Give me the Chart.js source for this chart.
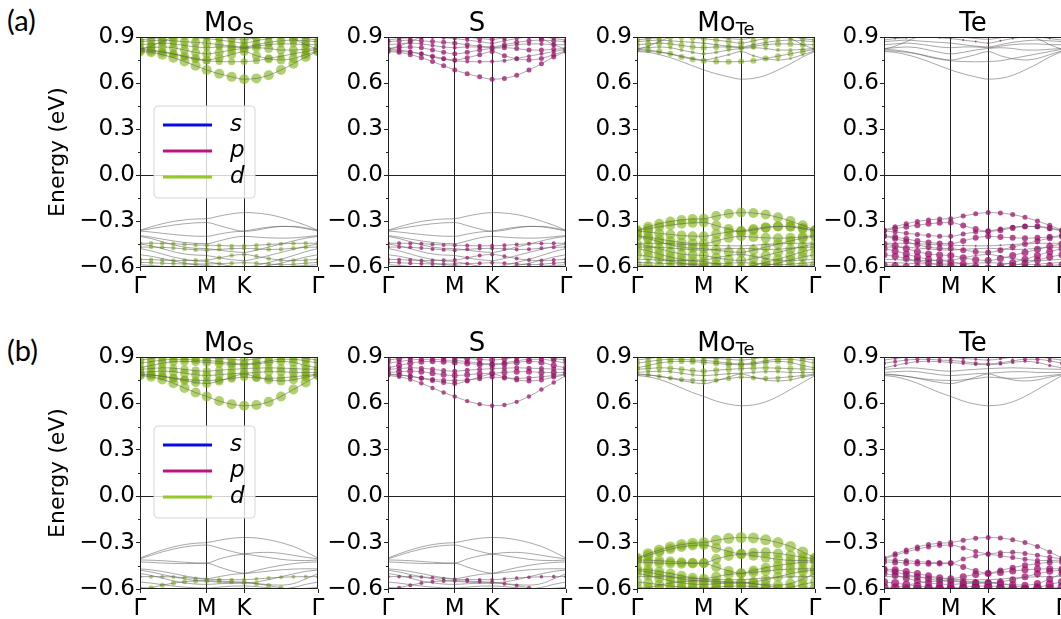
<!DOCTYPE html>
<html>
<head>
<meta charset="utf-8">
<script src="https://cdn.jsdelivr.net/npm/chart.js@4.4.0/dist/chart.umd.min.js"></script>
<style>
  body { margin: 0; width: 1061px; height: 619px; overflow: hidden; background: #fff; position: relative; }
  canvas { position: absolute; }
  .lbl { position: absolute; font-family: Lato, "Open Sans", sans-serif; font-size: 29px; color: #000; line-height: 1.2; }
</style>
</head>
<body>
<div class="lbl" style="left:7px;top:3px">(a)</div>
<div class="lbl" style="left:7px;top:333px">(b)</div>
<script>
// k-path (normalised): G -> M -> K -> G
const kPath = [0, 0.0625, 0.125, 0.1875, 0.25, 0.3125, 0.375, 0.445, 0.515, 0.585, 0.654, 0.723, 0.792, 0.862, 0.931, 1.0];
const kTicks = [0, 0.375, 0.585, 1.0];
const kLabels = ['Γ', 'M', 'K', 'Γ'];
const panelTitles = [['Mo', 'S'], ['S', ''], ['Mo', 'Te'], ['Te', '']];
const orbitals = ['s', 'p', 'd'];

// (a) conduction bands
const bandsA_cb = [
  [0.805, 0.800, 0.785, 0.765, 0.740, 0.712, 0.685, 0.660, 0.640, 0.625, 0.630, 0.650, 0.685, 0.725, 0.770, 0.805],
  [0.810, 0.808, 0.800, 0.790, 0.775, 0.760, 0.750, 0.765, 0.785, 0.805, 0.778, 0.758, 0.750, 0.760, 0.785, 0.810],
  [0.820, 0.815, 0.805, 0.790, 0.770, 0.755, 0.745, 0.740, 0.738, 0.740, 0.745, 0.760, 0.775, 0.790, 0.805, 0.820],
  [0.825, 0.830, 0.835, 0.830, 0.815, 0.800, 0.790, 0.800, 0.815, 0.825, 0.830, 0.825, 0.815, 0.815, 0.820, 0.825],
  [0.850, 0.855, 0.860, 0.855, 0.845, 0.835, 0.830, 0.835, 0.835, 0.830, 0.840, 0.850, 0.855, 0.855, 0.850, 0.850],
  [0.870, 0.875, 0.880, 0.875, 0.870, 0.865, 0.860, 0.850, 0.840, 0.835, 0.850, 0.865, 0.875, 0.880, 0.875, 0.870],
  [0.880, 0.890, 0.895, 0.900, 0.900, 0.895, 0.890, 0.880, 0.870, 0.860, 0.875, 0.890, 0.900, 0.900, 0.890, 0.880],
  [0.820, 0.840, 0.870, 0.900, 0.920, 0.920, 0.910, 0.900, 0.890, 0.885, 0.895, 0.910, 0.915, 0.890, 0.850, 0.820]
];
// (a) valence bands
const bandsA_vb = [
  [-0.360, -0.338, -0.318, -0.303, -0.293, -0.287, -0.285, -0.268, -0.253, -0.245, -0.248, -0.258, -0.276, -0.300, -0.328, -0.360],
  [-0.362, -0.350, -0.338, -0.327, -0.318, -0.312, -0.310, -0.330, -0.352, -0.368, -0.360, -0.345, -0.336, -0.335, -0.345, -0.362],
  [-0.365, -0.372, -0.380, -0.388, -0.395, -0.399, -0.400, -0.385, -0.372, -0.365, -0.352, -0.340, -0.335, -0.338, -0.350, -0.365],
  [-0.395, -0.405, -0.418, -0.430, -0.440, -0.446, -0.448, -0.430, -0.410, -0.400, -0.405, -0.410, -0.412, -0.410, -0.403, -0.395],
  [-0.445, -0.445, -0.446, -0.448, -0.452, -0.456, -0.458, -0.460, -0.462, -0.462, -0.458, -0.453, -0.449, -0.446, -0.445, -0.445],
  [-0.400, -0.415, -0.435, -0.455, -0.470, -0.478, -0.480, -0.490, -0.500, -0.505, -0.490, -0.470, -0.450, -0.430, -0.412, -0.400],
  [-0.470, -0.470, -0.472, -0.476, -0.482, -0.488, -0.490, -0.485, -0.480, -0.478, -0.482, -0.486, -0.484, -0.478, -0.472, -0.470],
  [-0.450, -0.462, -0.480, -0.500, -0.515, -0.522, -0.525, -0.540, -0.552, -0.558, -0.545, -0.525, -0.505, -0.485, -0.465, -0.450],
  [-0.550, -0.552, -0.555, -0.558, -0.558, -0.556, -0.555, -0.540, -0.525, -0.518, -0.530, -0.545, -0.555, -0.558, -0.555, -0.550],
  [-0.570, -0.572, -0.575, -0.578, -0.580, -0.580, -0.580, -0.578, -0.575, -0.572, -0.575, -0.580, -0.585, -0.582, -0.575, -0.570],
  [-0.480, -0.495, -0.515, -0.535, -0.550, -0.560, -0.565, -0.580, -0.595, -0.605, -0.590, -0.570, -0.550, -0.525, -0.500, -0.480],
  [-0.520, -0.530, -0.545, -0.560, -0.575, -0.585, -0.590, -0.600, -0.610, -0.615, -0.605, -0.590, -0.575, -0.555, -0.535, -0.520],
  [-0.585, -0.590, -0.596, -0.600, -0.605, -0.610, -0.612, -0.620, -0.625, -0.630, -0.620, -0.610, -0.600, -0.595, -0.590, -0.585]
];
// (b) conduction bands
const bandsB_cb = [
  [0.780, 0.772, 0.755, 0.730, 0.700, 0.670, 0.645, 0.615, 0.595, 0.585, 0.590, 0.610, 0.645, 0.690, 0.735, 0.780],
  [0.785, 0.783, 0.775, 0.762, 0.748, 0.735, 0.728, 0.745, 0.770, 0.790, 0.770, 0.752, 0.745, 0.752, 0.770, 0.785],
  [0.790, 0.785, 0.775, 0.765, 0.755, 0.750, 0.748, 0.752, 0.760, 0.770, 0.765, 0.762, 0.765, 0.772, 0.780, 0.790],
  [0.800, 0.805, 0.808, 0.805, 0.795, 0.785, 0.780, 0.785, 0.792, 0.795, 0.800, 0.805, 0.805, 0.800, 0.800, 0.800],
  [0.820, 0.825, 0.830, 0.828, 0.820, 0.812, 0.808, 0.815, 0.820, 0.825, 0.828, 0.830, 0.828, 0.825, 0.822, 0.820],
  [0.830, 0.845, 0.860, 0.870, 0.872, 0.870, 0.865, 0.858, 0.852, 0.850, 0.855, 0.865, 0.872, 0.865, 0.845, 0.830],
  [0.860, 0.870, 0.880, 0.885, 0.885, 0.880, 0.878, 0.870, 0.860, 0.855, 0.862, 0.875, 0.885, 0.885, 0.875, 0.860],
  [0.880, 0.890, 0.900, 0.910, 0.910, 0.900, 0.895, 0.890, 0.885, 0.880, 0.888, 0.900, 0.910, 0.905, 0.890, 0.880]
];
// (b) valence bands
const bandsB_vb = [
  [-0.400, -0.372, -0.348, -0.328, -0.313, -0.304, -0.300, -0.285, -0.272, -0.267, -0.270, -0.282, -0.300, -0.325, -0.360, -0.400],
  [-0.405, -0.382, -0.360, -0.342, -0.328, -0.319, -0.316, -0.335, -0.357, -0.372, -0.365, -0.363, -0.370, -0.382, -0.395, -0.405],
  [-0.412, -0.414, -0.417, -0.422, -0.427, -0.431, -0.432, -0.406, -0.386, -0.376, -0.385, -0.397, -0.408, -0.415, -0.416, -0.412],
  [-0.425, -0.428, -0.432, -0.435, -0.436, -0.435, -0.434, -0.458, -0.483, -0.498, -0.480, -0.462, -0.447, -0.436, -0.428, -0.425],
  [-0.470, -0.476, -0.487, -0.500, -0.515, -0.527, -0.533, -0.520, -0.506, -0.500, -0.493, -0.484, -0.476, -0.471, -0.469, -0.470],
  [-0.520, -0.520, -0.520, -0.522, -0.526, -0.532, -0.537, -0.539, -0.540, -0.540, -0.535, -0.529, -0.524, -0.521, -0.520, -0.520],
  [-0.610, -0.592, -0.575, -0.562, -0.553, -0.548, -0.546, -0.549, -0.553, -0.556, -0.566, -0.578, -0.592, -0.607, -0.622, -0.632],
  [-0.478, -0.490, -0.506, -0.521, -0.535, -0.545, -0.550, -0.555, -0.560, -0.562, -0.554, -0.540, -0.521, -0.502, -0.486, -0.478],
  [-0.500, -0.512, -0.530, -0.547, -0.560, -0.568, -0.570, -0.566, -0.562, -0.560, -0.565, -0.572, -0.575, -0.565, -0.535, -0.500],
  [-0.555, -0.562, -0.572, -0.581, -0.588, -0.592, -0.594, -0.588, -0.582, -0.580, -0.585, -0.592, -0.597, -0.590, -0.570, -0.555],
  [-0.590, -0.594, -0.598, -0.600, -0.602, -0.603, -0.603, -0.600, -0.597, -0.595, -0.598, -0.601, -0.603, -0.600, -0.595, -0.590]
];

// projection weights (marker radius) per band, one list per panel
const wA_MoS_cb = [5, 4.5, 3.5, 4.5, 3.5, 4.5, 3.5, 4.5];
const wA_S_cb = [2.5, 2.5, 2, 2.5, 2, 2.5, 2, 2.5];
const wA_MoTe_cb = [0, 1.5, 3, 2, 3, 2, 3, 1.5];
const wA_Te_cb = [0, 0, 0, 0, 0, 0, 1, 0];
const wA_MoS_vb = [0, 0, 0, 0, 2.2, 0, 2.2, 0, 2.2, 2.2, 0, 0, 0];
const wA_S_vb = [0, 0, 0, 0, 2, 0, 2, 0, 2, 2, 0, 0, 0];
const wA_MoTe_vb = [5, 5, 5, 5, 1.5, 5, 1.5, 5, 1.5, 1.5, 5, 5, 5];
const wA_Te_vb = [2.5, 3, 2.5, 3, 1, 3, 1, 3.5, 1, 1, 3.5, 3.5, 3.5];

const wB_MoS_cb = [5, 4.5, 4, 4.5, 4, 4.5, 4, 4.5];
const wB_S_cb = [2.2, 2.5, 2.5, 3, 2.5, 3, 2.5, 3];
const wB_MoTe_cb = [0, 1.5, 2.5, 2, 3, 3, 3, 2.5];
const wB_Te_cb = [0, 0, 0, 0, 0, 1.5, 2, 1.5];
const wB_MoS_vb = [0, 0, 0, 0, 0, 2, 2.5, 0, 0, 0, 0];
const wB_S_vb = [0, 0, 0, 0, 0, 1.8, 2, 0, 0, 0, 0];
const wB_MoTe_vb = [5.5, 5, 5, 5, 5, 1.5, 2, 5, 5, 5, 5];
const wB_Te_vb = [2.5, 2.5, 2.5, 3, 3.5, 1, 1, 3.5, 3.5, 4, 4.5];

const orbColors = { s: 'rgb(10,10,230)', p: 'rgb(190,20,130)', d: 'rgb(150,200,40)' };
const dotColors = { p: 'rgba(170,0,110,0.72)', d: 'rgba(125,178,15,0.6)' };

Chart.defaults.font.family = '"DejaVu Sans", sans-serif';
Chart.defaults.color = '#000';

// frame, subscripted title, minor ticks and legend
const panelDecor = {
  id: 'panelDecor',
  afterDatasetsDraw(chart, args, opts) {
    const { ctx, chartArea: a, scales } = chart;
    ctx.save();
    ctx.strokeStyle = '#222';
    ctx.lineWidth = 1;
    ctx.strokeRect(a.left + 0.5, a.top + 0.5, a.right - a.left - 1, a.bottom - a.top - 1);

    // minor y ticks halfway between the major ones
    ctx.beginPath();
    [-0.45, -0.15, 0.15, 0.45, 0.75].forEach(v => {
      const py = Math.round(scales.y.getPixelForValue(v)) + 0.5;
      ctx.moveTo(a.left, py);
      ctx.lineTo(a.left - 2, py);
    });
    ctx.stroke();

    // title with subscript
    const [main, sub] = opts.title;
    ctx.fillStyle = '#000';
    ctx.textBaseline = 'alphabetic';
    ctx.textAlign = 'left';
    ctx.font = '26px "DejaVu Sans"';
    const w1 = ctx.measureText(main).width;
    ctx.font = '18px "DejaVu Sans"';
    const w2 = sub ? ctx.measureText(sub).width : 0;
    const x0 = (a.left + a.right) / 2 - (w1 + w2) / 2;
    const yb = a.top - 6;
    ctx.font = '26px "DejaVu Sans"';
    ctx.fillText(main, x0, yb);
    if (sub) {
      ctx.font = '18px "DejaVu Sans"';
      ctx.fillText(sub, x0 + w1, yb + 4);
    }

    if (opts.legend) {
      const bx = a.left + 14, by = a.top + 69, bw = 101, bh = 92, r = 4;
      ctx.beginPath();
      ctx.moveTo(bx + r, by);
      ctx.arcTo(bx + bw, by, bx + bw, by + bh, r);
      ctx.arcTo(bx + bw, by + bh, bx, by + bh, r);
      ctx.arcTo(bx, by + bh, bx, by, r);
      ctx.arcTo(bx, by, bx + bw, by, r);
      ctx.closePath();
      ctx.fillStyle = 'rgba(255,255,255,0.8)';
      ctx.fill();
      ctx.strokeStyle = '#d6d6d6';
      ctx.stroke();
      orbitals.forEach((o, i) => {
        const ly = by + 19 + i * 26;
        ctx.strokeStyle = orbColors[o];
        ctx.lineWidth = 3;
        ctx.beginPath();
        ctx.moveTo(bx + 9, ly);
        ctx.lineTo(bx + 58, ly);
        ctx.stroke();
        ctx.fillStyle = '#000';
        ctx.font = 'italic 23px "DejaVu Sans"';
        ctx.textBaseline = 'middle';
        ctx.fillText(o, bx + 76, ly);
      });
    }
    ctx.restore();
  }
};

function makeDatasets(cb, vb, wcb, wvb, orb) {
  const ds = [];
  const bands = cb.concat(vb);
  const w = wcb.concat(wvb);
  bands.forEach((band, i) => {
    const pts = band.map((e, j) => ({ x: kPath[j], y: e }));
    if (w[i] > 0) {
      ds.push({ data: pts, showLine: false, pointRadius: w[i], pointBackgroundColor: dotColors[orb],
                pointBorderWidth: 0, order: 2, clip: 0 });
    }
    ds.push({ data: pts, showLine: true, borderColor: 'rgba(95,95,95,0.55)', borderWidth: 1,
              pointRadius: 0, cubicInterpolationMode: 'monotone', order: 1, clip: 0 });
  });
  return ds;
}

const fmt = v => (Math.abs(v) < 1e-9 ? 0 : v).toFixed(1).replace('-', '\u2212');

const rows = [
  { top: 37, h: 230, T: 37, cb: bandsA_cb, vb: bandsA_vb,
    w: [[wA_MoS_cb, wA_MoS_vb, 'd'], [wA_S_cb, wA_S_vb, 'p'], [wA_MoTe_cb, wA_MoTe_vb, 'd'], [wA_Te_cb, wA_Te_vb, 'p']] },
  { top: 357, h: 232, T: 40, cb: bandsB_cb, vb: bandsB_vb,
    w: [[wB_MoS_cb, wB_MoS_vb, 'd'], [wB_S_cb, wB_S_vb, 'p'], [wB_MoTe_cb, wB_MoTe_vb, 'd'], [wB_Te_cb, wB_Te_vb, 'p']] }
];
const colLeft = [140, 388, 637, 884];
const plotW = 178, R = 14, B = 40;

rows.forEach(row => {
  colLeft.forEach((left, c) => {
    const Lw = c === 0 ? 140 : 70;
    const cv = document.createElement('canvas');
    const W = Lw + plotW + R, H = row.T + row.h + B;
    cv.width = W; cv.height = H;
    cv.style.width = W + 'px'; cv.style.height = H + 'px';
    cv.style.left = (left - Lw) + 'px';
    cv.style.top = (row.top - row.T) + 'px';
    document.body.appendChild(cv);
    const [wcb, wvb, orb] = row.w[c];

    new Chart(cv, {
      type: 'scatter',
      data: { datasets: makeDatasets(row.cb, row.vb, wcb, wvb, orb) },
      options: {
        responsive: false,
        animation: false,
        events: [],
        layout: { padding: { left: 0, top: row.T, right: R, bottom: 0 } },
        plugins: {
          legend: { display: false },
          tooltip: { enabled: false },
          panelDecor: { title: panelTitles[c], legend: c === 0 }
        },
        scales: {
          x: {
            type: 'linear', min: 0, max: 1,
            afterBuildTicks: s => { s.ticks = kTicks.map(v => ({ value: v })); },
            afterFit: s => { s.height = B; },
            ticks: { callback: (v, i) => kLabels[i], font: { size: 23 }, padding: 2, maxRotation: 0, autoSkip: false },
            grid: { color: g => (g.index === 1 || g.index === 2) ? '#222' : 'rgba(0,0,0,0)', tickColor: '#222', tickLength: 4, lineWidth: 1 },
            border: { display: false }
          },
          y: {
            min: -0.6, max: 0.9,
            afterFit: s => { s.width = Lw; },
            ticks: { stepSize: 0.3, callback: v => fmt(v), font: { size: 23 }, padding: 1 },
            grid: { color: g => (g.tick && Math.abs(g.tick.value) < 1e-9) ? '#222' : 'rgba(0,0,0,0)', tickColor: '#222', tickLength: 4, lineWidth: 1 },
            border: { display: false },
            title: { display: c === 0, text: 'Energy (eV)', font: { size: 22 }, padding: { top: 45, bottom: 0 } }
          }
        }
      },
      plugins: [panelDecor]
    });
  });
});
</script>
</body>
</html>
